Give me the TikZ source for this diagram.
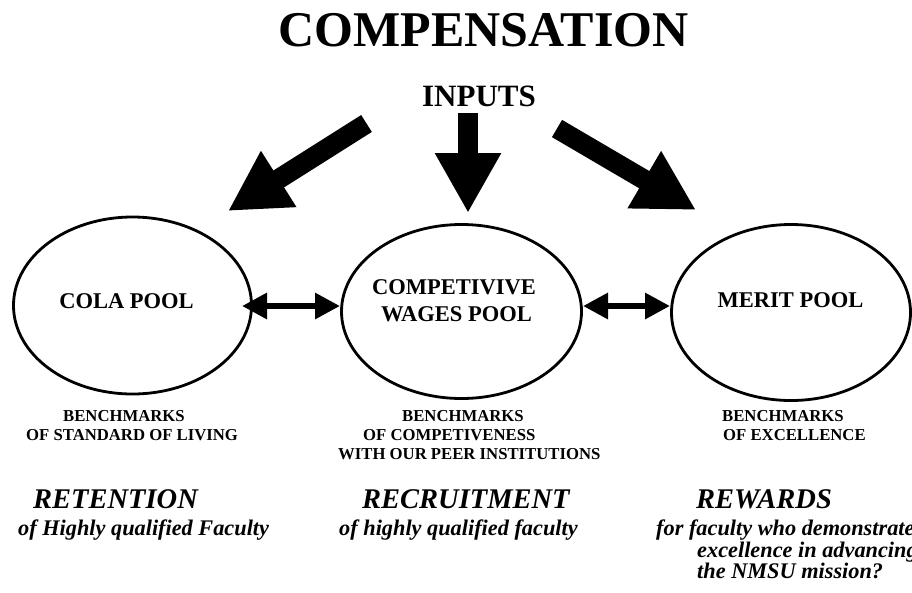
\documentclass[tikz,border=0pt]{standalone}
\usepackage{fontspec}
\setmainfont{Liberation Serif}
\usetikzlibrary{shapes.geometric,arrows.meta}
\begin{document}
\begin{tikzpicture}[x=1pt,y=-1pt,
  pool/.style={ellipse,draw,line width=2.8pt,inner sep=0pt},
  txt/.style={inner sep=0pt,font=\bfseries},
  ttl/.style={txt,anchor=base,font=\bfseries\fontsize{50}{60}\selectfont},
  inp/.style={txt,anchor=base,font=\bfseries\fontsize{31}{36}\selectfont},
  plabel/.style={txt,anchor=base,font=\bfseries\fontsize{22.5}{27}\selectfont},
  bench/.style={txt,anchor=base west,font=\bfseries\fontsize{16.7}{19}\selectfont},
  headit/.style={txt,anchor=base west,font=\bfseries\itshape\fontsize{28.5}{32}\selectfont},
  subit/.style={txt,anchor=base west,font=\bfseries\itshape\fontsize{22.3}{24}\selectfont},
  bigarrow/.style={line width=20pt,-{Triangle[width=62pt,length=60pt]}},
  dblarrow/.style={line width=6pt,{Triangle[width=25pt,length=25pt]}-{Triangle[width=25pt,length=25pt]}}]
\clip (0,0) rectangle (912,592);
\fill[white] (0,0) rectangle (912,592);

% title and inputs
\node[ttl] (title) at (483.5,46) {COMPENSATION};
\node[inp] (inputs) at (479,106) {INPUTS};

% pools
\node[pool,minimum width=238pt,minimum height=177pt] (cola) at (132.5,305.5) {};
\node[pool,minimum width=240pt,minimum height=174pt] (comp) at (461.5,311.5) {};
\node[pool,minimum width=239pt,minimum height=176pt] (merit) at (791,312.5) {};

\node[plabel] (colat) at (126.5,308) {COLA POOL};
\node[plabel] (compt1) at (454,294) {COMPETIVIVE};
\node[plabel] (compt2) at (456.5,321) {WAGES POOL};
\node[plabel] (meritt) at (790.5,307) {MERIT POOL};

% input arrows
\coordinate (la) at (366.5,123.5);
\coordinate (lb) at (228,211);
\coordinate (ma) at (468,113);
\coordinate (mb) at (468,213);
\coordinate (ra) at (557,128.5);
\coordinate (rb) at (696,210);
\draw[bigarrow] (la) -- (lb);
\draw[bigarrow] (ma) -- (mb);
\draw[bigarrow] (ra) -- (rb);

% double arrows between pools
\coordinate (d1a) at (242,306);
\coordinate (d1b) at (340,306);
\coordinate (d2a) at (583,306);
\coordinate (d2b) at (670,306);
\draw[dblarrow] (d1a) -- (d1b);
\draw[dblarrow] (d2a) -- (d2b);

% benchmarks
\node[bench] (b1a) at (63,421) {BENCHMARKS};
\node[bench] (b1b) at (26,440) {OF STANDARD OF LIVING};
\node[bench] (b2a) at (402,421) {BENCHMARKS};
\node[bench] (b2b) at (363,440) {OF COMPETIVENESS};
\node[bench] (b2c) at (338,459) {WITH OUR PEER INSTITUTIONS};
\node[bench] (b3a) at (722,421) {BENCHMARKS};
\node[bench] (b3b) at (723,440) {OF EXCELLENCE};

% goals
\node[headit] (h1) at (33,508) {RETENTION};
\node[headit] (h2) at (362,508) {RECRUITMENT};
\node[headit] (h3) at (696,508) {REWARDS};
\node[subit] (s1) at (18,535) {of Highly qualified Faculty};
\node[subit] (s2) at (339,535) {of highly qualified faculty};
\node[subit] (s3a) at (656,535) {for faculty who demonstrate};
\node[subit] (s3b) at (697,557) {excellence in advancing};
\node[subit] (s3c) at (697,578) {the NMSU mission?};
\end{tikzpicture}
\end{document}
